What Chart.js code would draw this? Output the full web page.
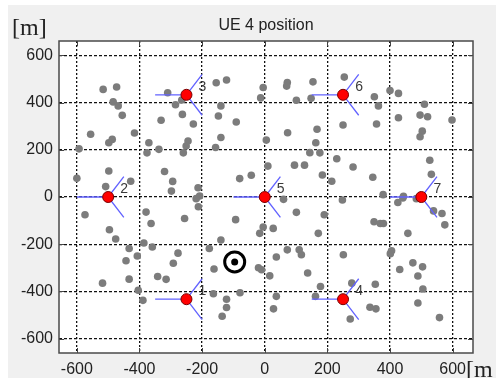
<!DOCTYPE html>
<html>
<head>
<meta charset="utf-8">
<script src="https://cdn.jsdelivr.net/npm/chart.js@4/dist/chart.umd.min.js"></script>
<style>
html, body { margin: 0; padding: 0; background: #fff; }
#wrap { width: 496px; height: 378px; }
</style>
</head>
<body>
<div id="wrap"><canvas id="chartPosition" width="496" height="378"></canvas></div>
<script>
// axes
const xTicks = [-600, -400, -200, 0, 200, 400, 600];
const yTicks = [-600, -400, -200, 0, 200, 400, 600];
const xRange = [-657, 665];
const yRange = [-661, 661];

// users (gray dots)
const ueX = [-516, -473, -484, -468, -455, -556, -416, -487, -498, -593, -370, -376, -338, -331, -498, -600, -508, -428, -320,
  -310, -285, -265, -263, -228, -155, -122, -5, -13, -140, -148, -91, -245, -251, -260, -140, -157, -294, -298, -213, -80, -43, -208,
  72, 70, 154, 254, 101, 148, 250, 73, 167, 163, 144, 176, 230, 5, 95, 127, 282, 184, 214, 10, 345,
  350, 363, 400, 427, 510, 357, 427, 496, 520, 598, 503, 496, 527, 532, 378, 443,
  -574, -496, -476, -433, -407, -443, -433, -518, -379, -363, -386, -359, -404, -389, -342, -315, -292, -277,
  -256, -212, -219, -177, -162, -140, -164, -122, -122, -136, -79, -93, -16, -5, -20, -10,
  60, 101, 190, 248, 27, 171, 72, 110, 37, 117, 251, 16, 137, 178, 162, 278, 37, 28, 273, 336, 355, 353,
  425, 441, 484, 539, 566, 575, 349, 369, 379, 457, 405, 401, 473, 504, 431, 489, 505, 489, 558];
const ueY = [456, 466, 403, 386, 346, 266, 271, 244, 230, 204, 230, 187, 202, 325, 110, 79, 44, 67, 108,
  442, 391, 411, 350, 309, 484, 496, 464, 420, 386, 343, 318, 237, 216, 187, 252, 210, 66, 25, 39, 78, 92, 4,
  485, 470, 488, 508, 410, 418, 305, 272, 287, 230, 188, 187, 162, 241, 135, 135, 127, 93, 67, 131, 84,
  425, 386, 451, 439, 393, 309, 336, 347, 340, 326, 279, 255, 156, 96, 10, 3,
  -75, -139, -178, -218, -250, -270, -348, -365, -64, -112, -195, -212, -395, -438, -337, -349, -281, -238,
  -91, -41, -7, -218, -305, -182, -410, -433, -468, -505, -406, -96, -154, -127, -300, -308,
  -10, -65, -75, -13, -133, -154, -224, -224, -254, -245, -245, -334, -322, -379, -421, -365, -421, -474, -517, -467, -474, -370,
  -23, -4, -7, -59, -70, -118, -105, -112, -112, -154, -228, -240, -279, -296, -307, -335, -390, -449, -511];

// base stations
const bsNames = ['1', '2', '3', '4', '5', '6', '7'];
const bsX = [-250, -500, -250, 250, 0, 250, 500];
const bsY = [-433, 0, 433, -433, 0, 433, 0];
const sectorAngles = [180, 60, -60];
const sectorLength = 100;

// UE 4
const targetX = [-96];
const targetY = [-275];

const uePoints = ueX.map((x, i) => ({ x: x, y: ueY[i] }));
const bsPoints = bsX.map((x, i) => ({ x: x, y: bsY[i] }));
const sectorPoints = [];
bsPoints.forEach(p => {
  sectorAngles.forEach(a => {
    const r = a * Math.PI / 180;
    sectorPoints.push({ x: p.x, y: p.y });
    sectorPoints.push({ x: p.x + sectorLength * Math.cos(r), y: p.y + sectorLength * Math.sin(r) });
    sectorPoints.push({ x: null, y: null });
  });
});
const targetPoints = targetX.map((x, i) => ({ x: x, y: targetY[i] }));

// fond, cadre, petits ticks internes et textes façon matlab
const decor = {
  id: 'decor',
  beforeDraw(chart) {
    const { ctx, chartArea: a } = chart;
    ctx.save();
    ctx.fillStyle = '#fff';
    ctx.fillRect(0, 0, chart.width, chart.height);
    ctx.fillStyle = '#f0f0f0';
    ctx.fillRect(8, 5, chart.width - 8, chart.height - 5);
    ctx.fillStyle = '#fff';
    ctx.fillRect(a.left, a.top, a.right - a.left, a.bottom - a.top);
    ctx.restore();
  },
  afterDraw(chart) {
    const { ctx, chartArea: a, scales } = chart;
    ctx.save();
    ctx.strokeStyle = '#444';
    ctx.lineWidth = 1;
    ctx.beginPath();
    xTicks.forEach(v => {
      const px = Math.round(scales.x.getPixelForValue(v)) + 0.5;
      ctx.moveTo(px, a.bottom); ctx.lineTo(px, a.bottom - 5);
      ctx.moveTo(px, a.top); ctx.lineTo(px, a.top + 5);
    });
    yTicks.forEach(v => {
      const py = Math.round(scales.y.getPixelForValue(v)) + 0.5;
      ctx.moveTo(a.left, py); ctx.lineTo(a.left + 5, py);
      ctx.moveTo(a.right, py); ctx.lineTo(a.right - 5, py);
    });
    ctx.stroke();
    ctx.strokeStyle = '#4a4a4a';
    ctx.lineWidth = 1.5;
    ctx.strokeRect(a.left, a.top, a.right - a.left, a.bottom - a.top);

    // numéros des stations
    ctx.font = '14px Arial';
    ctx.fillStyle = '#3a3a3a';
    ctx.textAlign = 'center';
    ctx.textBaseline = 'middle';
    bsPoints.forEach((p, i) => {
      ctx.fillText(bsNames[i], scales.x.getPixelForValue(p.x) + 16, scales.y.getPixelForValue(p.y) - 8);
    });

    ctx.font = '16px Arial';
    ctx.fillStyle = '#222';
    ctx.textBaseline = 'alphabetic';
    ctx.fillText('UE 4 position', (a.left + a.right) / 2, 30);
    ctx.font = '24px "Liberation Serif"';
    ctx.textAlign = 'left';
    ctx.fillText('[m]', 12, 35);
    ctx.fillText('[m', 466, 377);
    ctx.restore();
  }
};

const ctxPos = document.getElementById('chartPosition');
new Chart(ctxPos, {
  type: 'scatter',
  data: {
    datasets: [
      {
        label: 'UE 4',
        data: targetPoints,
        pointRadius: 10,
        pointBorderWidth: 3,
        pointBorderColor: '#000',
        pointBackgroundColor: 'rgba(0,0,0,0)',
        order: 1
      },
      {
        label: 'UE 4 centre',
        data: targetPoints,
        pointRadius: 3.5,
        pointBorderWidth: 0,
        pointBackgroundColor: '#000',
        order: 1
      },
      {
        label: 'Stations',
        data: bsPoints,
        pointRadius: 5.5,
        pointBorderWidth: 1,
        pointBorderColor: '#7a0000',
        pointBackgroundColor: '#ff0000',
        order: 2
      },
      {
        label: 'Secteurs',
        data: sectorPoints,
        showLine: true,
        spanGaps: false,
        borderColor: '#6262ff',
        borderWidth: 1.3,
        pointRadius: 0,
        order: 3
      },
      {
        label: 'UEs',
        data: uePoints,
        pointRadius: 3.8,
        pointBorderWidth: 0,
        pointBackgroundColor: '#7c7c7c',
        order: 4
      }
    ]
  },
  options: {
    responsive: false,
    animation: false,
    layout: { padding: { top: 41, right: 23, left: 0, bottom: 0 } },
    plugins: { legend: { display: false }, tooltip: { enabled: false } },
    scales: {
      x: {
        type: 'linear',
        min: xRange[0],
        max: xRange[1],
        afterBuildTicks: s => { s.ticks = xTicks.map(v => ({ value: v })); },
        afterFit: s => { s.height = 25; },
        grid: { color: '#111', lineWidth: 1.3, drawTicks: false },
        border: { display: false, dash: [2, 2] },
        ticks: { padding: 7, color: '#222', font: { family: 'Arial', size: 16 } }
      },
      y: {
        type: 'linear',
        min: yRange[0],
        max: yRange[1],
        afterBuildTicks: s => { s.ticks = yTicks.map(v => ({ value: v })); },
        afterFit: s => { s.width = 59; },
        grid: { color: '#111', lineWidth: 1.3, drawTicks: false },
        border: { display: false, dash: [3, 2] },
        ticks: { padding: 6, color: '#222', font: { family: 'Arial', size: 16 } }
      }
    }
  },
  plugins: [decor]
});
</script>
</body>
</html>
